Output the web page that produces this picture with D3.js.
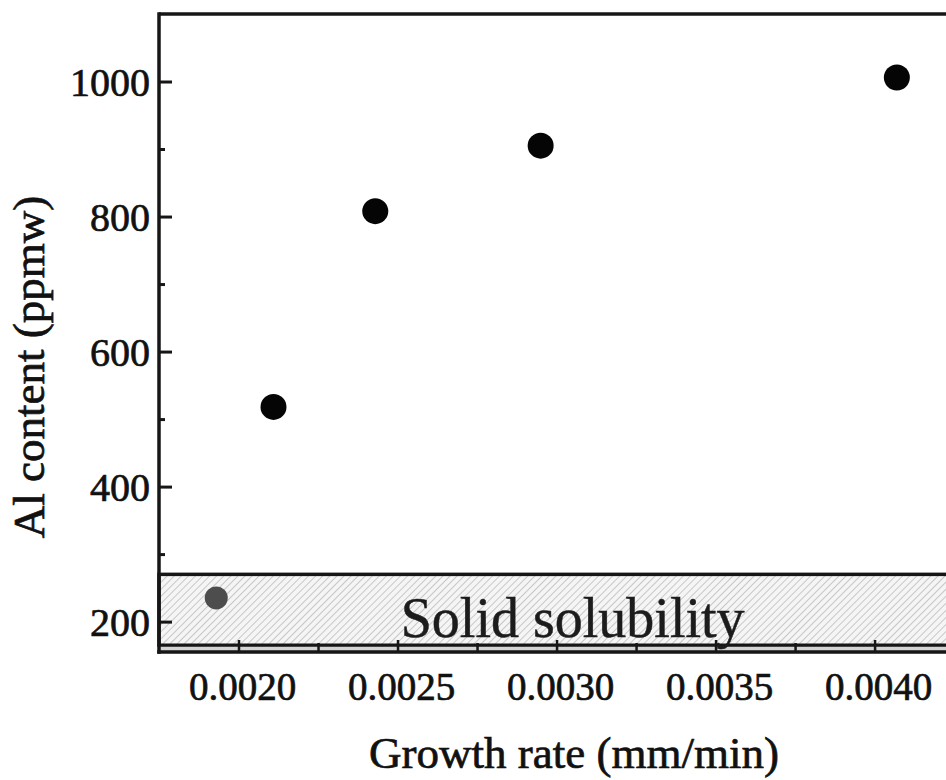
<!DOCTYPE html>
<html>
<head>
<meta charset="utf-8">
<script src="https://cdn.jsdelivr.net/npm/d3@7/dist/d3.min.js"></script>
<style>
  html, body { margin: 0; padding: 0; background: #fff; }
  svg { display: block; }
  text { font-family: "Liberation Serif", "Times New Roman", serif; fill: #111; stroke: #111; stroke-width: 0.7px; }
</style>
</head>
<body>
<svg id="chart" width="946" height="780"></svg>
<script>
// Growth rate (mm/min) vs Al content (ppmw)
const growthRate = [0.00193, 0.00211, 0.00243, 0.00295, 0.00407];
const alContent  = [235, 518, 808, 905, 1006];
const withinSolubility = [true, false, false, false, false];

// Solid-solubility band (ppmw)
const bandRange = [165, 270];
const bandLabel = "Solid solubility";

const xTickValues = [0.0020, 0.0025, 0.0030, 0.0035, 0.0040];
const xTickLabels = ["0.0020", "0.0025", "0.0030", "0.0035", "0.0040"];
const yTickValues = [200, 400, 600, 800, 1000];
const yTickLabels = ["200", "400", "600", "800", "1000"];

const xTitle = "Growth rate (mm/min)";
const yTitle = "Al content (ppmw)";

const svg = d3.select("#chart");
const plotLeft = 159, plotTop = 14, plotRight = 970, plotBottom = 652;
const ink = "#161616";

const x = d3.scaleLinear().domain([0.00175, 0.0043]).range([plotLeft, plotRight]);
const y = d3.scaleLinear().domain([155, 1100]).range([plotBottom, plotTop]);

// diagonal hatch for the band
const defs = svg.append("defs");
const pat = defs.append("pattern")
  .attr("id", "hatch")
  .attr("patternUnits", "userSpaceOnUse")
  .attr("width", 5).attr("height", 5)
  .attr("patternTransform", "rotate(45)");
pat.append("rect").attr("width", 5).attr("height", 5).attr("fill", "#f5f5f5");
pat.append("line")
  .attr("x1", 0).attr("y1", 0).attr("x2", 0).attr("y2", 5)
  .attr("stroke", "#b8b8b8").attr("stroke-width", 1.5);

// band
svg.append("rect")
  .attr("x", plotLeft)
  .attr("y", y(bandRange[1]))
  .attr("width", plotRight - plotLeft)
  .attr("height", y(bandRange[0]) - y(bandRange[1]))
  .attr("fill", "url(#hatch)")
  .attr("stroke", ink)
  .attr("stroke-width", 3.5);

// strip between band and x axis
svg.append("rect")
  .attr("x", plotLeft).attr("y", y(bandRange[0]) + 1.5)
  .attr("width", plotRight - plotLeft).attr("height", plotBottom - y(bandRange[0]) - 1.5)
  .attr("fill", "#d4d4d4");

svg.append("text")
  .attr("x", x(0.00251))
  .attr("y", 637)
  .attr("font-size", 56)
  .style("fill", "#1c1c1c")
  .style("stroke", "#1c1c1c")
  .style("stroke-width", "0.5px")
  .text(bandLabel);

// frame
const frame = svg.append("g").attr("fill", "none").attr("stroke", ink).attr("stroke-width", 3.5);
frame.append("line").attr("x1", plotLeft).attr("x2", plotRight).attr("y1", plotTop).attr("y2", plotTop);
frame.append("line").attr("x1", plotLeft).attr("x2", plotLeft).attr("y1", plotTop - 1.75).attr("y2", plotBottom + 1.75);
frame.append("line").attr("x1", plotLeft - 1.75).attr("x2", plotRight).attr("y1", plotBottom).attr("y2", plotBottom);

// x axis ticks (inward) and labels
const xMinor = d3.range(0.00175, 0.0043, 0.00025).filter(v => v > 0.0018);
const xAxis = d3.axisTop(x)
  .tickValues(xMinor)
  .tickSize(0)
  .tickFormat("");
const gx = svg.append("g").attr("transform", `translate(0,${plotBottom})`).call(xAxis);
gx.select(".domain").remove();
gx.selectAll(".tick").append("line")
  .attr("y1", 0)
  .attr("y2", d => (xTickValues.some(t => Math.abs(t - d) < 1e-9) ? -12 : -9))
  .attr("stroke", ink).attr("stroke-width", 2.5);

svg.append("g").selectAll("text")
  .data(xTickValues)
  .join("text")
  .attr("x", d => x(d) + 4)
  .attr("y", 700)
  .attr("text-anchor", "middle")
  .attr("font-size", 39)
  .text((d, i) => xTickLabels[i]);

// y axis ticks (inward) and labels
const yMinor = d3.range(200, 1100, 100);
const yAxis = d3.axisRight(y).tickValues(yMinor).tickSize(0).tickFormat("");
const gy = svg.append("g").attr("transform", `translate(${plotLeft},0)`).call(yAxis);
gy.select(".domain").remove();
gy.selectAll(".tick").append("line")
  .attr("x1", 0)
  .attr("x2", d => (d % 200 === 0 ? 13 : 6))
  .attr("stroke", ink).attr("stroke-width", 3);

svg.append("g").selectAll("text")
  .data(yTickValues)
  .join("text")
  .attr("x", 150)
  .attr("y", d => y(d))
  .attr("dy", "0.35em")
  .attr("text-anchor", "end")
  .attr("font-size", 40)
  .text((d, i) => yTickLabels[i]);

// axis titles
svg.append("text")
  .attr("x", 574).attr("y", 768)
  .attr("text-anchor", "middle")
  .attr("font-size", 45)
  .text(xTitle);

svg.append("text")
  .attr("transform", `translate(44,367) rotate(-90)`)
  .attr("text-anchor", "middle")
  .attr("font-size", 45)
  .text(yTitle);

// data points
svg.append("g").selectAll("circle")
  .data(growthRate.map((g, i) => ({ g, a: alContent[i], inside: withinSolubility[i] })))
  .join("circle")
  .attr("cx", d => x(d.g))
  .attr("cy", d => y(d.a))
  .attr("r", d => d.inside ? 11.5 : 13)
  .attr("fill", d => d.inside ? "#4d4d4d" : "#050505");
</script>
</body>
</html>
